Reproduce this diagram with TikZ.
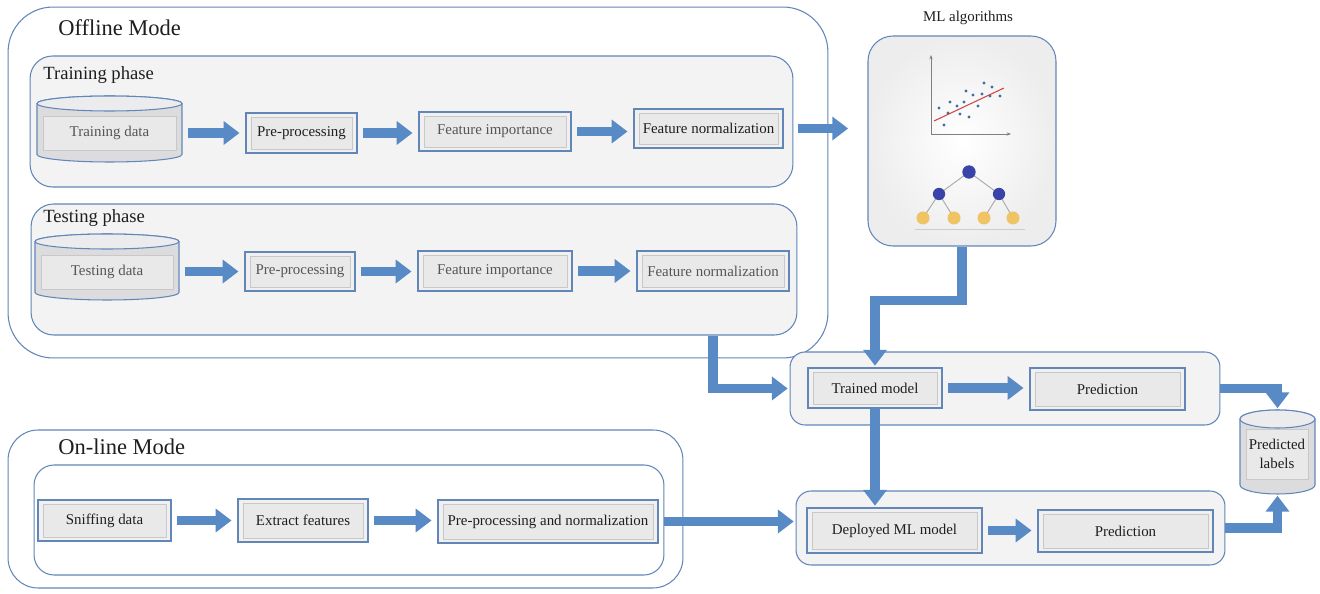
\documentclass[tikz,border=0pt]{standalone}
\usepackage{fontspec}
\setmainfont{Liberation Serif}
\usepackage{tikz}
\usetikzlibrary{arrows.meta}
\definecolor{edgeblue}{RGB}{98,134,184}
\definecolor{flowblue}{RGB}{88,138,198}
\definecolor{panelgray}{RGB}{243,243,243}
\definecolor{boxfill}{RGB}{240,240,240}
\definecolor{innerfill}{RGB}{233,233,233}
\definecolor{innerline}{RGB}{200,200,200}
\definecolor{cylbody}{RGB}{220,220,222}
\definecolor{cylend}{RGB}{236,236,238}
\definecolor{txtdark}{RGB}{30,30,30}
\definecolor{txtgray}{RGB}{85,85,85}
\definecolor{dotblue}{RGB}{60,110,165}
\definecolor{fitred}{RGB}{205,70,70}
\definecolor{treeblue}{RGB}{58,68,168}
\definecolor{leafgold}{RGB}{240,195,100}
\newcommand{\modefont}{\fontsize{12.8}{15}\selectfont}
\newcommand{\phasefont}{\fontsize{10.6}{13}\selectfont}
\newcommand{\boxfont}{\fontsize{8.5}{10.5}\selectfont}
% cylinder round a named node: node, half width, end radius
\newcommand{\dbdraw}[3]{%
  \filldraw[draw=edgeblue, line width=0.6pt, fill=cylbody]
    ([yshift=-#3]#1.north west) -- ([yshift=#3]#1.south west)
    arc[start angle=180, end angle=360, x radius=#2, y radius=#3]
    -- ([yshift=-#3]#1.north east)
    arc[start angle=0, end angle=180, x radius=#2, y radius=#3] -- cycle;
  \filldraw[draw=edgeblue, line width=0.6pt, fill=cylend]
    ([yshift=-#3]#1.north) ellipse [x radius=#2, y radius=#3];}

\begin{document}
\begin{tikzpicture}[x=0.02cm, y=-0.02cm,
    modebox/.style={draw=edgeblue, fill=white, line width=0.6pt},
    modetitle/.style={anchor=west, inner sep=0pt, font=\modefont, text=txtdark},
    phasetitle/.style={anchor=west, inner sep=0pt, font=\phasefont, text=txtdark},
    panel/.style={draw=edgeblue, fill=panelgray, line width=0.6pt, rounded corners=0.45cm},
    proc/.style={draw=edgeblue, fill=boxfill, line width=0.6pt, inner sep=0pt,
        font=\boxfont, text=txtdark,
        path picture={\draw[innerline, fill=innerfill, line width=0.5pt]
            ([shift={(0.1cm,0.08cm)}]path picture bounding box.south west) rectangle
            ([shift={(-0.1cm,-0.08cm)}]path picture bounding box.north east);}},
    dbase/.style={rectangle, inner sep=0pt, outer sep=0pt},
    dbtext/.style={draw=innerline, fill=innerfill, line width=0.5pt, inner sep=0pt,
        font=\boxfont, text=txtgray},
    flow/.style={draw=flowblue, line width=5.5pt, -{Triangle[length=9pt,width=13pt]},
        shorten <=3.4pt, shorten >=3.4pt},
    elbow/.style={flow, shorten <=0pt, shorten >=1pt},
]
\useasboundingbox (0,0) rectangle (1320,594);

% Offline mode
\node[modebox, rounded corners=0.9cm, minimum width=16.4cm, minimum height=7.02cm] (offline) at (418,182.5) {};
\node[modetitle] (offlinetxt) at (58,28) {Offline Mode};

% Training phase
\node[panel, minimum width=15.26cm, minimum height=2.62cm] (trainph) at (411.5,121.5) {};
\node[phasetitle] (trainphtxt) at (43,75) {Training phase};
\node[dbase, minimum width=2.9cm, minimum height=1.32cm] (trdata) at (109.5,129) {};
\dbdraw{trdata}{1.45cm}{0.15cm}
\node[dbtext, minimum width=2.66cm, minimum height=0.68cm] (trdatatxt) at (109.5,133) {Training data};
\node[proc, minimum width=2.22cm, minimum height=0.8cm] (trpre) at (301.5,133) {Pre-processing};
\node[proc, text=txtgray, minimum width=3.04cm, minimum height=0.78cm] (trimp) at (495,131.5) {Feature importance};
\node[proc, minimum width=2.98cm, minimum height=0.78cm] (trnorm) at (708.5,128.5) {Feature normalization};

% Testing phase
\node[panel, minimum width=15.32cm, minimum height=2.62cm] (testph) at (414,269.5) {};
\node[phasetitle] (testphtxt) at (43,218) {Testing phase};
\node[dbase, minimum width=2.88cm, minimum height=1.32cm] (tedata) at (107,267) {};
\dbdraw{tedata}{1.44cm}{0.15cm}
\node[dbtext, minimum width=2.64cm, minimum height=0.68cm] (tedatatxt) at (107,272) {Testing data};
\node[proc, text=txtgray, minimum width=2.2cm, minimum height=0.78cm] (tepre) at (300,271.5) {Pre-processing};
\node[proc, text=txtgray, minimum width=3.08cm, minimum height=0.8cm] (teimp) at (495,271) {Feature importance};
\node[proc, text=txtgray, minimum width=3.04cm, minimum height=0.8cm] (tenorm) at (713,271) {Feature normalization};

% ML algorithms
\node[font=\boxfont, text=txtdark] (mlalgtxt) at (968,18) {ML algorithms};
\node[draw=edgeblue, line width=0.6pt, rounded corners=0.5cm, inner color=white, outer color=gray!14,
    minimum width=3.76cm, minimum height=4.2cm] (mlalg) at (962,141) {};
% scatter plot
\draw[gray, line width=0.4pt, {Stealth[length=2.5pt]}-{Stealth[length=2.5pt]}] (931,55) -- (931,134) -- (1011,134);
\foreach \px/\py in {939/108, 950/102, 948/113, 957/106, 960/114, 964/102, 966/91, 969/117,
    944/125, 973/95, 978/106, 982/94, 984/83, 992/87, 990/96, 1000/96}
    \fill[dotblue] (\px,\py) circle (0.9pt);
\draw[fitred, line width=0.6pt] (934,121) -- (1004,88);
% decision tree
\draw[gray!70, line width=0.5pt] (969,172) -- (939,194) -- (923,218)
    (939,194) -- (954,218) (969,172) -- (999,194) -- (984,218) (999,194) -- (1013,218);
\fill[treeblue] (969,172) circle (3.8pt) (939,194) circle (3.5pt) (999,194) circle (3.5pt);
\foreach \lx in {923,954,984,1013}
    \fill[leafgold] (\lx,218) circle (3.7pt);
\draw[gray!40, line width=0.5pt] (915,229) -- (1025,229);

% Trained model
\node[panel, rounded corners=0.3cm, minimum width=8.6cm, minimum height=1.46cm] (trgrp) at (1005,388.5) {};
\node[proc, minimum width=2.68cm, minimum height=0.8cm] (trmodel) at (875,388) {Trained model};
\node[proc, minimum width=3.1cm, minimum height=0.84cm] (trpred) at (1107.5,389) {Prediction};

% Predicted labels
\node[dbase, minimum width=1.5cm, minimum height=1.68cm] (labels) at (1277.5,452) {};
\dbdraw{labels}{0.75cm}{0.18cm}
\node[dbtext, text=txtdark, align=center, minimum width=1.24cm, minimum height=1.0cm] (labelstxt) at (1277,454) {Predicted\\labels};

% Deployed model
\node[panel, rounded corners=0.3cm, minimum width=8.58cm, minimum height=1.48cm] (depgrp) at (1010.5,528) {};
\node[proc, minimum width=3.5cm, minimum height=0.9cm] (depmodel) at (894.5,530.5) {Deployed ML model};
\node[proc, minimum width=3.5cm, minimum height=0.84cm] (deppred) at (1125.5,531) {Prediction};

% On-line mode
\node[modebox, rounded corners=0.6cm, minimum width=13.5cm, minimum height=3.16cm] (online) at (345.5,509) {};
\node[modetitle] (onlinetxt) at (58,447) {On-line Mode};
\node[modebox, rounded corners=0.4cm, minimum width=12.6cm, minimum height=2.2cm] (onlinein) at (349,520) {};
\node[proc, minimum width=2.66cm, minimum height=0.82cm] (sniff) at (104.5,520.5) {Sniffing data};
\node[proc, minimum width=2.6cm, minimum height=0.86cm] (extract) at (303,520.5) {Extract features};
\node[proc, minimum width=4.4cm, minimum height=0.86cm] (prenorm) at (548,521.5) {Pre-processing and normalization};

% Arrows
\draw[flow] (trdata.east |- trpre) -- (trpre);
\draw[flow] (trpre.east) -- (trpre.east -| trimp.west);
\draw[flow] (trimp.east) -- (trimp.east -| trnorm.west);
\draw[flow, shorten <=8pt, shorten >=11pt] (trnorm.east) -- (trnorm.east -| mlalg.west);
\draw[flow] (tedata.east |- tepre) -- (tepre);
\draw[flow] (tepre.east) -- (tepre.east -| teimp.west);
\draw[flow] (teimp.east) -- (teimp.east -| tenorm.west);
\draw[elbow] (tenorm |- testph.south) |- (trgrp.west);
\draw[elbow] (mlalg.south) -- ++(0,54) -| (trmodel.north);
\draw[flow] (trmodel.east) -- (trmodel.east -| trpred.west);
\draw[elbow] (trgrp.east) -| (labels.north);
\draw[elbow] (trmodel.south) -- (trmodel.south |- depmodel.north);
\draw[flow] (depmodel.east) -- (depmodel.east -| deppred.west);
\draw[elbow] (depgrp.east) -| (labels.south);
\draw[flow] (sniff.east) -- (sniff.east -| extract.west);
\draw[flow] (extract.east) -- (extract.east -| prenorm.west);
\draw[flow, shorten >=1pt] (prenorm.east) -- (prenorm.east -| depgrp.west);
\end{tikzpicture}
\end{document}
